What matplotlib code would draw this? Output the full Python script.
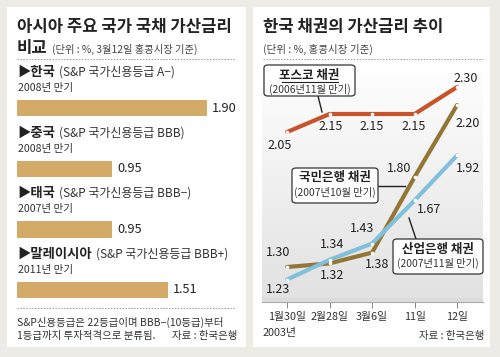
import numpy as np
import matplotlib.pyplot as plt
from matplotlib.patches import Rectangle, FancyBboxPatch
from matplotlib.lines import Line2D
from matplotlib.colors import LinearSegmentedColormap

plt.rcParams['font.family'] = ['Noto Sans CJK KR', 'DejaVu Sans']

# left panel data
countries = ['한국', '중국', '태국', '말레이시아']
ratings = ['(S&P 국가신용등급 A−)', '(S&P 국가신용등급 BBB)',
           '(S&P 국가신용등급 BBB−)', '(S&P 국가신용등급 BBB+)']
maturities = ['2008년 만기', '2008년 만기', '2007년 만기', '2011년 만기']
spreads = [1.90, 0.95, 0.95, 1.51]

# right panel data
dates = ['1월30일', '2월28일', '3월6일', '11일', '12일']
posco = [2.05, 2.15, 2.15, 2.15, 2.30]
kookmin = [1.30, 1.32, 1.38, 1.80, 2.20]
sanup = [1.23, 1.34, 1.43, 1.67, 1.92]

W, H = 500, 357
BG = '#ecebe5'
BAR = '#d3aa68'
C_POSCO = '#c8522a'
C_KOOK = '#937636'
C_SANUP = '#80c0dc'


def fx(x):
    return x / W


def fy(y):
    return 1 - y / H


fig = plt.figure(figsize=(5, 3.57), dpi=100, facecolor=BG)

# white panels
for x0, x1 in [(7, 246), (253, 490)]:
    fig.patches.append(Rectangle((fx(x0), fy(347)), fx(x1) - fx(x0), fy(7) - fy(347),
                                 transform=fig.transFigure, facecolor='white',
                                 edgecolor='none', zorder=-1))


def ftext(x, y, s, **kw):
    kw.setdefault('va', 'center')
    kw.setdefault('color', '#222222')
    fig.text(fx(x), fy(y), s, **kw)


def dotted(x0, x1, y):
    fig.add_artist(Line2D([fx(x0), fx(x1)], [fy(y), fy(y)], transform=fig.transFigure,
                          color='#999999', lw=0.7, linestyle=(0, (1.5, 1.5))))


# ---- left panel ----
ftext(17, 27, '아시아 주요 국가 국채 가산금리', fontsize=12, fontweight='bold')
ftext(17, 48, '비교', fontsize=12, fontweight='bold')
ftext(52, 49, '(단위 : %, 3월12일 홍콩시장 기준)', fontsize=7.4, color='#444444')
dotted(17, 236, 59)

ax1 = fig.add_axes([fx(17), fy(320.3), fx(243) - fx(17), fy(47.4) - fy(320.3)])
ax1.set_zorder(2)
ax1.set_xlim(0, 2.26)
ax1.set_ylim(3.5, -1)
ax1.axis('off')
ypos = np.arange(len(countries))
ax1.barh(ypos, spreads, height=0.27, color=BAR)
heads = []
for i, v in enumerate(spreads):
    ax1.text(v + 0.05, i, f'{v:.2f}', va='center', ha='left', fontsize=9.2, color='#222222')
    heads.append(ax1.text(0.0, i - 0.6, '▶' + countries[i], va='center', ha='left',
                          fontsize=9.6, fontweight='bold', color='#222222'))
    ax1.text(0.01, i - 0.33, maturities[i], va='center', ha='left', fontsize=7.6,
             color='#333333')
fig.canvas.draw()
r = fig.canvas.get_renderer()
for i, t in enumerate(heads):
    bb = t.get_window_extent(renderer=r)
    ftext(bb.x1 + 4, H - (bb.y0 + bb.y1) / 2 + 0.5, ratings[i],
          fontsize=8.6, color='#333333')

dotted(17, 236, 308)
ftext(17, 322, 'S&P신용등급은 22등급이며 BBB−(10등급)부터', fontsize=7.5, color='#333333')
ftext(17, 336, '1등급까지 투자적격으로 분류됨.', fontsize=7.5, color='#333333')
ftext(237, 336, '자료 : 한국은행', fontsize=7.5, color='#333333', ha='right')

# ---- right panel ----
ftext(263, 27, '한국 채권의 가산금리 추이', fontsize=12, fontweight='bold')
ftext(263, 49, '(단위 : %, 홍콩시장 기준)', fontsize=7.6, color='#444444')
dotted(263, 483, 59)

ax2 = fig.add_axes([fx(262), fy(302), fx(483) - fx(262), fy(62) - fy(302)])
ax2.set_zorder(2)
ylo, yhi = 2.15 - (302 - 114) / 180, 2.15 + (114 - 62) / 180
ax2.set_xlim(-0.59, 4.61)
ax2.set_ylim(ylo, yhi)
ax2.set_facecolor('white')
grad = np.linspace(1, 0, 100).reshape(-1, 1)
cmap = LinearSegmentedColormap.from_list('g', ['#e2e2e2', '#ffffff'])
ax2.imshow(grad, extent=(-0.59, 4.61, ylo + 0.022, yhi), aspect='auto', cmap=cmap,
           vmin=0, vmax=1, origin='upper', zorder=0)
ax2.axhspan(ylo, ylo + 0.022, color='#dcdcdc', zorder=0)
for s in ['top', 'left', 'right']:
    ax2.spines[s].set_visible(False)
ax2.spines['bottom'].set_color('#aaaaaa')
ax2.spines['bottom'].set_linewidth(0.8)
ax2.set_yticks([])
x = np.arange(len(dates))
ax2.set_xticks(x)
ax2.set_xticklabels(dates, fontsize=7.8, color='#333333')
ax2.tick_params(axis='x', direction='out', length=4, width=0.7, color='#888888', pad=3)

for vals, c in [(posco, C_POSCO), (kookmin, C_KOOK), (sanup, C_SANUP)]:
    ax2.plot(x, vals, color=c, lw=3, solid_capstyle='round', solid_joinstyle='round',
             marker='o', markersize=2.6, markerfacecolor='white', markeredgewidth=0,
             zorder=3)

# value labels: (series, index, dx px, dy px)
lab = [(posco, 0, -7, 13), (posco, 1, 1, 13), (posco, 2, 0, 13), (posco, 3, -1, 13),
       (posco, 4, 9, -9),
       (kookmin, 0, -9, -14), (kookmin, 1, 3, 12), (kookmin, 2, 5, 12),
       (kookmin, 3, -15, -8), (kookmin, 4, 11, 19),
       (sanup, 0, -9, 10), (sanup, 1, 3, -15), (sanup, 2, -10, -15),
       (sanup, 3, 14, 9), (sanup, 4, 11, 13)]
for vals, i, dx, dy in lab:
    ax2.annotate(f'{vals[i]:.2f}', (i, vals[i]), xytext=(dx * 0.72, -dy * 0.72),
                 textcoords='offset points', ha='center', va='center', fontsize=9,
                 color='#222222', zorder=5)

ftext(263, 333, '2003년', fontsize=7.8, color='#333333')
ftext(484, 336, '자료 : 한국은행', fontsize=7.5, color='#333333', ha='right')


def callout(x0, y0, x1, y1, title, sub, line, underline=False):
    fig.add_artist(Line2D([fx(line[0]), fx(line[2])], [fy(line[1]), fy(line[3])],
                          transform=fig.transFigure, color='#222222', lw=1, zorder=6))
    fig.add_artist(FancyBboxPatch((fx(x0), fy(y1)), fx(x1) - fx(x0), fy(y0) - fy(y1),
                                  boxstyle='round,pad=0,rounding_size=0.008',
                                  transform=fig.transFigure, facecolor='white',
                                  edgecolor='#333333', lw=0.9, zorder=7))
    cx = (x0 + x1) / 2
    fig.text(fx(cx), fy(y0 + 10), title, ha='center', va='center', fontsize=9,
             fontweight='bold', color='#222222', zorder=8)
    fig.text(fx(cx), fy(y0 + 24), sub, ha='center', va='center', fontsize=7.4,
             color='#333333', zorder=8)
    if underline:
        fig.add_artist(Line2D([fx(cx - 28), fx(cx + 28)], [fy(y0 + 17), fy(y0 + 17)],
                              transform=fig.transFigure, color='#222222', lw=0.8, zorder=8))


callout(264, 65, 355, 96, '포스코 채권', '(2006년11월 만기)', (318, 96, 322, 112), True)
callout(292, 168, 378, 203, '국민은행 채권', '(2007년10월 만기)', (378, 186, 405, 186))
callout(393, 239, 483, 274, '산업은행 채권', '(2007년11월 만기)', (416, 239, 409, 218))

fig.savefig('out.png', dpi=100, facecolor=BG)
